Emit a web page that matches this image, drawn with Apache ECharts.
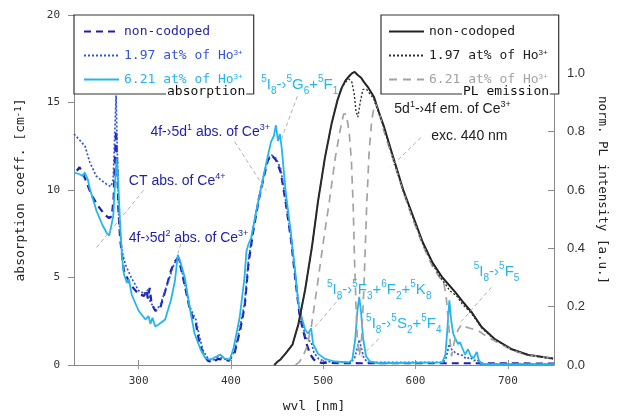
<!DOCTYPE html>
<html>
<head>
<meta charset="utf-8">
<script src="https://cdn.jsdelivr.net/npm/echarts@6/dist/echarts.min.js"></script>
<style>
  html, body { margin: 0; padding: 0; background: #fff; }
  #chart { width: 617px; height: 418px; }
</style>
</head>
<body>
<div id="chart"></div>
<script>
// Absorption spectra [wavelength nm, absorption coefficient cm^-1]
const absNonCodoped = [[233,11.1],[236,11.3],[240,10.9],[244,10.4],[249,9.7],[256,9.1],[263,8.6],[268,8.4],[271,8.5],[273,9.6],[274.5,12.0],[275.6,13.4],[276.8,11.5],[278,9.0],[280,7.2],[284,5.4],[291,4.6],[300,4.05],[306,3.95],[308.5,4.3],[310,3.8],[312,4.4],[314,3.5],[318,3.1],[323,3.2],[328.7,4.2],[335,5.4],[339,5.9],[342.5,6.1],[346,5.5],[351,4.3],[355,3.3],[358,2.8],[362,2.4],[365,1.5],[370,0.6],[375,0.25],[380,0.15],[386,0.35],[392,0.3],[398,0.25],[404,0.7],[410,2.0],[415,3.4],[419,5.8],[424,7.6],[430,9.4],[435,10.6],[440,11.7],[444,12.0],[449,11.7],[454,11.0],[459,9.4],[465,7.2],[470,4.8],[474,3.0],[478,2.0],[482,1.2],[486,0.6],[490,0.3],[498,0.12],[540,0.1],[600,0.1],[660,0.1],[750,0.08]];

const absHo197 = [[230,13.2],[237,12.8],[242,12.5],[247,11.6],[254,10.8],[261,10.5],[266,10.3],[270,10.2],[272.5,10.6],[274,13.0],[275.6,15.4],[277,12.0],[278.5,8.4],[282,6.5],[285.6,5.75],[292,5.0],[300,4.25],[307.5,4.05],[310,4.3],[312,3.7],[314,3.5],[319,3.1],[324,3.5],[331,4.6],[338,5.7],[342.5,6.2],[346,5.6],[351,4.4],[355,3.4],[359,2.9],[362,2.6],[366,1.6],[370,0.8],[375,0.4],[380,0.25],[386,0.45],[392,0.35],[398,0.3],[404,0.8],[410,2.2],[415,3.6],[419,6.0],[424,7.8],[430,9.5],[435,10.7],[440,11.8],[444,12.0],[449,11.8],[454,11.2],[459,9.5],[465,7.4],[470,5.0],[474,3.2],[478,2.2],[481,1.6],[484,1.4],[487,1.3],[490,0.7],[495,0.35],[502,0.2],[530,0.15],[534,0.4],[537,1.0],[539,1.45],[541,1.0],[544,0.4],[548,0.15],[630,0.15],[633,0.4],[636.6,1.2],[639,0.9],[643,0.7],[647,0.6],[651,0.55],[655,0.35],[659,0.45],[663,0.25],[667,0.3],[671,0.05],[750,0.05]];

const absHo621 = [[230,11.0],[236,10.9],[239.6,10.8],[241.7,11.0],[245,10.6],[247,10.1],[254.4,8.8],[260.8,8.0],[266,7.5],[268.2,7.4],[270.3,7.3],[272.5,8.5],[274.6,10.5],[276.2,11.8],[277.8,10.5],[280,8.0],[282,6.2],[284,5.2],[287.3,4.7],[289.4,4.9],[292.6,4.0],[300,3.1],[307.5,2.6],[310.7,2.8],[312.8,2.35],[315,2.7],[318,2.2],[321.3,2.3],[328.7,2.6],[335,3.7],[339.3,4.8],[342.5,6.3],[344.7,6.0],[350,5.0],[355.3,3.3],[360.6,1.8],[367,0.9],[372.3,0.4],[377.6,0.3],[385,0.5],[388.2,0.6],[392.4,0.4],[398.8,0.3],[403,1.0],[409.4,2.7],[414.7,5.0],[416.8,6.5],[419,6.9],[422,7.3],[427.5,8.8],[434.9,10.7],[440.2,12.0],[443.4,12.75],[446.6,13.1],[448.7,13.7],[451,12.8],[453,13.2],[455,12.4],[459.3,9.9],[464.6,7.7],[469.9,5.2],[473.1,3.5],[477.3,2.6],[480.5,2.0],[483.7,1.8],[486.9,2.1],[489,1.2],[494.3,0.65],[501.8,0.35],[512.4,0.2],[528,0.15],[531.5,0.3],[534.7,1.5],[536.8,3.0],[539,3.9],[541,3.0],[543.2,1.5],[546.4,0.5],[550.6,0.2],[560,0.1],[629,0.15],[632.3,0.6],[634.4,2.0],[636.6,3.7],[638.7,2.5],[640.8,1.8],[643,1.5],[646.1,1.2],[648.3,1.3],[650.4,1.0],[653.6,0.6],[656.8,0.9],[660,0.5],[663,0.4],[666.3,0.75],[668.4,0.3],[671.6,0.05],[750,0.05]];

// Normalised PL emission spectra [wavelength nm, intensity a.u.], excitation 440 nm
const plNonCodoped = [[447,0.0],[450,0.01],[454,0.02],[459.3,0.04],[466.7,0.07],[473.1,0.14],[480.5,0.26],[488,0.41],[494.3,0.56],[501.8,0.71],[509.2,0.83],[515.6,0.91],[520,0.95],[524,0.975],[528,0.99],[531,1.0],[534,1.005],[537,0.995],[541,0.985],[544.2,0.97],[549,0.95],[554.8,0.92],[560,0.87],[565.5,0.82],[576,0.71],[586.7,0.60],[597.3,0.51],[607.9,0.42],[618.5,0.35],[629.1,0.30],[643,0.25],[650.4,0.22],[661,0.18],[671.6,0.13],[685.4,0.09],[703.5,0.055],[721.5,0.035],[749,0.022]];

const plHo197 = [[447,0.0],[450,0.01],[454,0.02],[459.3,0.04],[466.7,0.07],[473.1,0.14],[480.5,0.26],[488,0.41],[494.3,0.56],[501.8,0.71],[509.2,0.83],[515.6,0.91],[520,0.95],[524,0.97],[528,0.98],[531,0.97],[533.5,0.93],[535.5,0.87],[537.5,0.85],[540,0.9],[543,0.945],[547,0.945],[554.8,0.912],[560,0.865],[565.5,0.815],[576,0.705],[586.7,0.595],[597.3,0.505],[607.9,0.415],[618.5,0.345],[629,0.29],[634,0.27],[637,0.255],[641,0.245],[645,0.235],[650.4,0.21],[661,0.175],[671.6,0.127],[685.4,0.088],[703.5,0.054],[721.5,0.034],[749,0.021]];

const plHo621 = [[470,0.0],[474,0.01],[478,0.03],[482,0.06],[487,0.13],[493,0.26],[500,0.42],[507,0.57],[513,0.71],[518,0.8],[522,0.86],[525,0.86],[528,0.8],[530.5,0.7],[532.5,0.54],[533.8,0.37],[535.5,0.2],[537,0.09],[539,0.03],[541.5,0.09],[544,0.26],[547,0.54],[549.5,0.72],[552.5,0.84],[556,0.9],[560,0.87],[566,0.8],[576,0.7],[587,0.59],[597,0.5],[608,0.41],[618,0.34],[626,0.3],[630,0.29],[633,0.24],[636,0.13],[639,0.03],[642,0.08],[646,0.12],[650,0.14],[655,0.13],[660,0.125],[667,0.12],[676,0.1],[690,0.075],[705,0.05],[720,0.035],[735,0.028],[749,0.022]];

// Axis ticks
const wlTicks = [300, 400, 500, 600, 700];

const MONO = '"DejaVu Sans Mono", "Liberation Mono", monospace';
const SANS = '"Liberation Sans", Arial, sans-serif';

const C_DARKBLUE = '#1d1fae';
const C_BLUE = '#3154dc';
const C_CYAN = '#22b6ec';
const C_BLACK = '#222222';
const C_GREY = '#a3a3a3';

const legendLabels = {
  'abs-non': 'non-codoped',
  'abs-197': '1.97 at% of Ho{sup|3+}',
  'abs-621': '6.21 at% of Ho{sup|3+}',
  'pl-non': 'non-codoped',
  'pl-197': '1.97 at% of Ho{sup|3+}',
  'pl-621': '6.21 at% of Ho{sup|3+}'
};

const legendRich = {
  sup: { fontSize: 8, verticalAlign: 'top', lineHeight: 9, fontFamily: SANS }
};

const chart = echarts.init(document.getElementById('chart'), null, { renderer: 'canvas' });

function lineSeries(name, data, yIdx, color, width, type, z) {
  return {
    name, type: 'line', data, yAxisIndex: yIdx, xAxisIndex: 0,
    showSymbol: false, symbol: 'none', smooth: false, animation: false, z,
    lineStyle: { color, width, type }, itemStyle: { color }
  };
}

function legendBox(left, padding, items) {
  return {
    orient: 'vertical', left, top: 15,
    itemWidth: 35, itemHeight: 14, itemGap: 11,
    padding,
    borderColor: '#333', borderWidth: 1.2, backgroundColor: '#fff',
    selectedMode: false,
    itemStyle: { opacity: 0 },
    formatter: n => legendLabels[n],
    textStyle: { fontFamily: MONO, fontSize: 13, rich: legendRich },
    data: items
  };
}

chart.setOption({
  animation: false,
  grid: { left: 74, right: 53, top: 15, bottom: 50, containLabel: false },
  legend: [
    legendBox(74, [10, 11, 8, 9], [
      { name: 'abs-non', textStyle: { color: C_DARKBLUE } },
      { name: 'abs-197', textStyle: { color: C_BLUE } },
      { name: 'abs-621', textStyle: { color: C_CYAN } }
    ]),
    legendBox(381, [10, 11, 8, 7], [
      { name: 'pl-non', textStyle: { color: C_BLACK } },
      { name: 'pl-197', textStyle: { color: C_BLACK } },
      { name: 'pl-621', textStyle: { color: C_GREY } }
    ])
  ],
  xAxis: [
    {
      type: 'value', min: 230, max: 750, position: 'bottom',
      name: 'wvl [nm]', nameLocation: 'middle', nameGap: 35,
      nameTextStyle: { fontFamily: MONO, fontSize: 13, color: '#222' },
      axisLine: { show: true, lineStyle: { color: '#8a8a8a', width: 1 } },
      axisTick: { show: true, inside: true, length: 5, customValues: wlTicks, lineStyle: { color: '#8a8a8a' } },
      axisLabel: { customValues: wlTicks, margin: 11, fontFamily: MONO, fontSize: 11, color: '#333' },
      splitLine: { show: false }
    },
    {
      type: 'value', min: 230, max: 750, position: 'top',
      axisLine: { show: false },
      axisTick: { show: true, inside: true, length: 4, customValues: wlTicks, lineStyle: { color: '#999' } },
      axisLabel: { show: false },
      splitLine: { show: false }
    }
  ],
  yAxis: [
    {
      type: 'value', min: 0, max: 20, interval: 5, position: 'left',
      name: 'absorption coeff. [cm{s|-1}]', nameLocation: 'middle', nameGap: 47,
      nameTextStyle: {
        fontFamily: MONO, fontSize: 13, color: '#222',
        rich: { s: { fontFamily: MONO, fontSize: 9, verticalAlign: 'top', lineHeight: 9, color: '#222' } }
      },
      axisLine: { show: true, lineStyle: { color: '#8a8a8a', width: 1 } },
      axisTick: { show: true, inside: false, length: 6, lineStyle: { color: '#8a8a8a' } },
      axisLabel: { margin: 14, fontFamily: MONO, fontSize: 11, color: '#333' },
      splitLine: { show: false }
    },
    {
      type: 'value', min: 0, max: 1.2, interval: 0.2, position: 'right',
      name: 'norm. PL intensity [a.u.]', nameLocation: 'middle', nameGap: 36, nameRotate: -90,
      nameTextStyle: { fontFamily: MONO, fontSize: 12.5, color: '#222' },
      axisLine: { show: true, lineStyle: { color: '#8a8a8a', width: 1 } },
      axisTick: { show: true, inside: true, length: 6, lineStyle: { color: '#8a8a8a' } },
      axisLabel: { margin: 13, showMaxLabel: false, fontFamily: SANS, fontSize: 13, color: '#333',
        formatter: v => v.toFixed(1) },
      splitLine: { show: false }
    }
  ],
  series: [
    lineSeries('abs-non', absNonCodoped, 0, C_DARKBLUE, 2.2, [7, 5], 3),
    lineSeries('abs-197', absHo197, 0, C_BLUE, 1.7, [2, 2], 4),
    lineSeries('abs-621', absHo621, 0, C_CYAN, 1.8, 'solid', 5),
    lineSeries('pl-non', plNonCodoped, 1, C_BLACK, 2, 'solid', 6),
    lineSeries('pl-197', plHo197, 1, '#333', 1.4, [2, 2], 7),
    lineSeries('pl-621', plHo621, 1, C_GREY, 1.7, [8, 6], 6)
  ]
});

// Annotations anchored in (wavelength, absorption) coordinates
const noteRichBlue = {
  n: { fontSize: 14, lineHeight: 18, fontFamily: SANS, fill: C_DARKBLUE },
  sup: { fontSize: 9, lineHeight: 10, verticalAlign: 'top', fontFamily: SANS, fill: C_DARKBLUE }
};
const noteRichBlack = {
  n: { fontSize: 14, lineHeight: 18, fontFamily: SANS, fill: C_BLACK },
  sup: { fontSize: 9, lineHeight: 10, verticalAlign: 'top', fontFamily: SANS, fill: C_BLACK }
};
const noteRichCyan = {
  n: { fontSize: 15, lineHeight: 22, fontFamily: SANS, fill: C_CYAN },
  sup: { fontSize: 10, lineHeight: 11, verticalAlign: 'top', fontFamily: SANS, fill: C_CYAN },
  sub: { fontSize: 10, lineHeight: 11, verticalAlign: 'bottom', fontFamily: SANS, fill: C_CYAN }
};

const annotations = [
  { text: '{n|4f-›5d}{sup|1}{n| abs. of Ce}{sup|3+}', at: [312.8, 13.3], rich: noteRichBlue,
    leader: [[404, 12.76], [438, 9.98]] },
  { text: '{n|CT abs. of Ce}{sup|4+}', at: [289.4, 10.5], rich: noteRichBlue,
    leader: [[305.4, 9.98], [252.3, 6.58]] },
  { text: '{n|4f-›5d}{sup|2}{n| abs. of Ce}{sup|3+}', at: [289.4, 7.27], rich: noteRichBlue,
    leader: [[345.7, 6.93], [342.5, 6.37]] },
  { text: '{sup|5}{n|I}{sub|8}{n|-›}{sup|5}{n|G}{sub|6}{n|+}{sup|5}{n|F}{sub|1}', at: [432.8, 16.0], rich: noteRichCyan,
    leader: [[472, 15.36], [454, 12.8]] },
  { text: '{n|5d}{sup|1}{n|-›4f em. of Ce}{sup|3+}', at: [577, 14.6], rich: noteRichBlack, leader: null },
  { text: '{n|exc. 440 nm}', at: [617, 13.1], rich: noteRichBlack,
    leader: [[605.8, 13.0], [572.9, 11.3]] },
  { text: '{sup|5}{n|I}{sub|8}{n|-›}{sup|5}{n|F}{sub|3}{n|+}{sup|6}{n|F}{sub|2}{n|+}{sup|5}{n|K}{sub|8}', at: [504, 4.28], rich: noteRichCyan,
    leader: [[518.8, 3.88], [491.2, 2.18]] },
  { text: '{sup|5}{n|I}{sub|8}{n|-›}{sup|5}{n|S}{sub|2}{n|+}{sup|5}{n|F}{sub|4}', at: [546.4, 2.35], rich: noteRichCyan,
    leader: [[560.2, 1.5], [541, 0.49]] },
  { text: '{sup|5}{n|I}{sub|8}{n|-›}{sup|5}{n|F}{sub|5}', at: [663.1, 5.3], rich: noteRichCyan,
    leader: [[682.2, 4.44], [647.2, 2.35]] }
];

function toPx(p) {
  return chart.convertToPixel({ xAxisIndex: 0, yAxisIndex: 0 }, p);
}

const graphics = [];
annotations.forEach(a => {
  if (a.leader) {
    const p1 = toPx(a.leader[0]);
    const p2 = toPx(a.leader[1]);
    graphics.push({
      type: 'line', z: 20, silent: true,
      shape: { x1: p1[0], y1: p1[1], x2: p2[0], y2: p2[1] },
      style: { stroke: '#b0b0b0', lineWidth: 1, lineDash: [4, 3] }
    });
  }
});
annotations.forEach(a => {
  const p = toPx(a.at);
  graphics.push({
    type: 'text', z: 30, silent: true, x: p[0], y: p[1],
    style: { text: a.text, rich: a.rich, align: 'left', verticalAlign: 'middle' }
  });
});

// Section captions sitting on the legend frames
graphics.push({
  type: 'text', z: 40, silent: true, x: 166, y: 92,
  style: { text: 'absorption', font: '13px ' + MONO, fill: '#111', verticalAlign: 'middle',
    backgroundColor: '#fff', padding: [0, 1] }
});
graphics.push({
  type: 'text', z: 40, silent: true, x: 462, y: 92,
  style: { text: 'PL emission', font: '13px ' + MONO, fill: '#111', verticalAlign: 'middle',
    backgroundColor: '#fff', padding: [0, 1] }
});

chart.setOption({ graphic: graphics });
</script>
</body>
</html>
